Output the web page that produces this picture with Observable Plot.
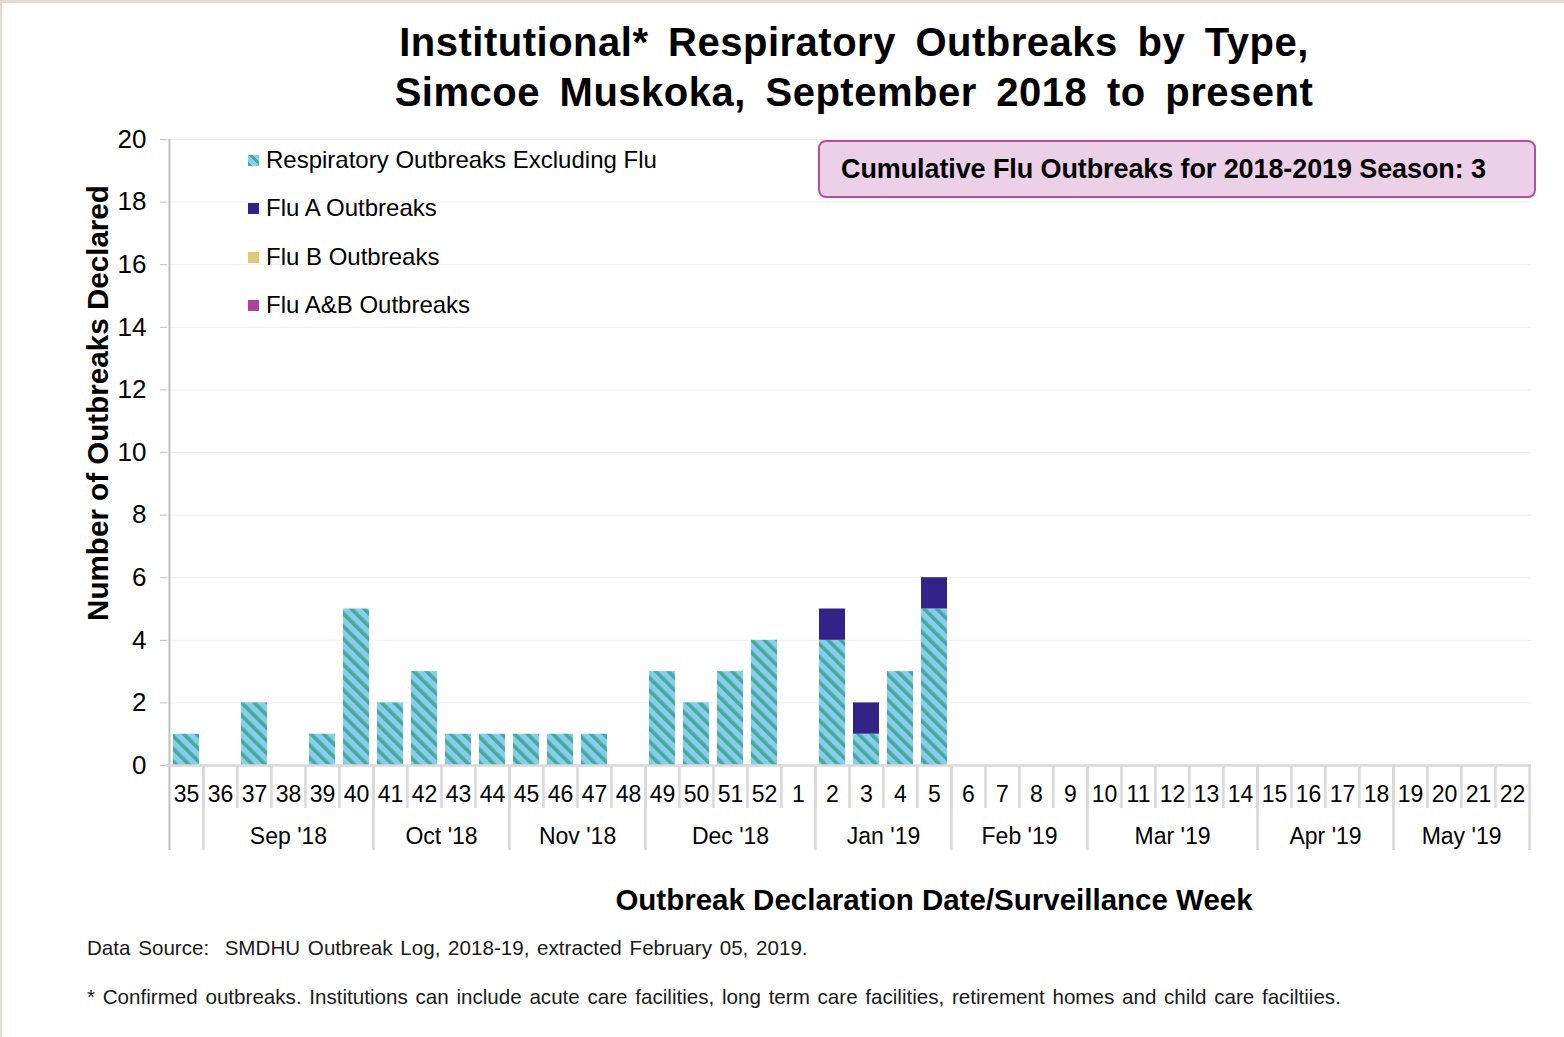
<!DOCTYPE html>
<html>
<head>
<meta charset="utf-8">
<script src="https://cdn.jsdelivr.net/npm/d3@7"></script>
<script src="https://cdn.jsdelivr.net/npm/@observablehq/plot@0.6"></script>
<style>
  html, body { margin: 0; padding: 0; background: #fff; }
  body { width: 1564px; height: 1037px; position: relative; overflow: hidden;
         font-family: "Liberation Sans", Arial, sans-serif; color: #000; }
  #edgeL { position: absolute; left: 0; top: 0; width: 2px; height: 1037px; background: #e6dbd0; }
  #edgeT { position: absolute; left: 0; top: 0; width: 1564px; height: 3px; background: #e6dbd0; }
  #title { position: absolute; left: 0; top: 17px; width: 1708px; text-align: center;
           font-weight: bold; font-size: 40px; line-height: 50px; word-spacing: 8px; letter-spacing: 0.5px; }
  #chart { position: absolute; left: 0; top: 120px; }
  #ylabel { position: absolute; left: 98px; top: 403px; transform: translate(-50%, -50%) rotate(-90deg);
            white-space: nowrap; font-weight: bold; font-size: 29.6px; line-height: 30px; }
  #xlabel { position: absolute; left: 934px; top: 900px; transform: translate(-50%, -50%);
            white-space: nowrap; font-weight: bold; font-size: 29.5px; line-height: 30px; }
  .note { position: absolute; left: 87px; white-space: nowrap; font-size: 20.6px; line-height: 22px;
          color: #1a1a1a; transform: translateY(-50%); word-spacing: 2px; }
  #legend { position: absolute; left: 248px; top: 0; }
  .lg { position: absolute; left: 0; white-space: nowrap; font-size: 24px; line-height: 26px;
        transform: translateY(-50%); }
  .sw { display: inline-block; width: 11px; height: 11px; margin-right: 7px; vertical-align: 2px; }
  #box { position: absolute; left: 818px; top: 140px; width: 714px; height: 54px;
         border: 2px solid #b24fa1; border-radius: 8px; background: #ecd0e7; box-sizing: content-box; }
  #box span { position: absolute; left: 21px; top: 50%; transform: translateY(-50%);
              font-weight: bold; font-size: 27px; white-space: nowrap; letter-spacing: -0.1px; }
</style>
</head>
<body>
<div id="edgeL"></div><div id="edgeT"></div>
<div id="title">Institutional* Respiratory Outbreaks by Type,<br>Simcoe Muskoka, September 2018 to present</div>
<div id="chart"></div>
<div id="ylabel">Number of Outbreaks Declared</div>
<div id="xlabel">Outbreak Declaration Date/Surveillance Week</div>
<div class="note" style="top:948px">Data Source:&nbsp; SMDHU Outbreak Log, 2018-19, extracted February 05, 2019.</div>
<div class="note" style="top:997px">* Confirmed outbreaks. Institutions can include acute care facilities, long term care facilities, retirement homes and child care faciltiies.</div>
<div id="legend"></div>
<div id="box"><span id="boxText"></span></div>
<script>
// ---------- data ----------
const weeks = ["35","36","37","38","39","40","41","42","43","44","45","46","47","48","49","50","51","52",
               "1","2","3","4","5","6","7","8","9","10","11","12","13","14","15","16","17","18","19","20","21","22"];
const respExclFlu = [1,0,2,0,1,5,2,3,1,1,1,1,1,0,3,2,3,4,0,4,1,3,5,0,0,0,0,0,0,0,0,0,0,0,0,0,0,0,0,0];
const fluA        = [0,0,0,0,0,0,0,0,0,0,0,0,0,0,0,0,0,0,0,1,1,0,1,0,0,0,0,0,0,0,0,0,0,0,0,0,0,0,0,0];
const fluB        = [0,0,0,0,0,0,0,0,0,0,0,0,0,0,0,0,0,0,0,0,0,0,0,0,0,0,0,0,0,0,0,0,0,0,0,0,0,0,0,0];
const fluAB       = [0,0,0,0,0,0,0,0,0,0,0,0,0,0,0,0,0,0,0,0,0,0,0,0,0,0,0,0,0,0,0,0,0,0,0,0,0,0,0,0];
const seriesNames = ["Respiratory Outbreaks Excluding Flu", "Flu A Outbreaks", "Flu B Outbreaks", "Flu A&B Outbreaks"];
const monthLabels = ["", "Sep '18", "Oct '18", "Nov '18", "Dec '18", "Jan '19", "Feb '19", "Mar '19", "Apr '19", "May '19"];
const monthStartWeek = ["35", "36", "41", "45", "49", "2", "6", "10", "15", "19"];
const monthWeekCount = [1, 5, 4, 4, 5, 4, 4, 5, 4, 4];
const yTicks = [0, 2, 4, 6, 8, 10, 12, 14, 16, 18, 20];
const cumulativeFlu = 3;
const seasonLabel = "2018-2019";

// ---------- layout ----------
const W = 1564, H = 800, mL = 167, mR = 33, mT = 19, mB = 155;
const step = (W - mL - mR) / weeks.length;
const colors = ["url(#respStripes)", "#332288", "#DDCC77", "#AA4499"];
const swatchCss = ["repeating-linear-gradient(45deg, #44AA99 0 3px, #88CCEE 3px 8px)", "#332288", "#DDCC77", "#AA4499"];

const seriesValues = [respExclFlu, fluA, fluB, fluAB];
const rows = [];
seriesNames.forEach((s, k) => weeks.forEach((w, i) => rows.push({week: w, type: s, value: seriesValues[k][i]})));

const months = monthLabels.map((label, i) => {
  const start = weeks.indexOf(monthStartWeek[i]);
  const n = monthWeekCount[i];
  return {label, start: monthStartWeek[i], mid: weeks[start + Math.floor((n - 1) / 2)], even: n % 2 === 0};
});
const monthEdges = months.map(m => m.start);
const WEEK_TICK = -43 / ((H - mT - mB) / 20);   // divider depth in y-units below 0
const MONTH_TICK = -85 / ((H - mT - mB) / 20);

const chart = Plot.plot({
  width: W, height: H, marginLeft: mL, marginRight: mR, marginTop: mT, marginBottom: mB,
  style: {fontFamily: "'Liberation Sans', Arial, sans-serif", fontSize: "23px", color: "#000", background: "transparent", overflow: "visible"},
  x: {type: "band", domain: weeks, padding: 0, label: null},
  y: {domain: [0, 20], label: null},
  color: {domain: seriesNames, range: colors},
  marks: [
    Plot.gridY(yTicks, {stroke: "#000", strokeOpacity: 0.07, strokeWidth: 1}),
    Plot.barY(rows, {x: "week", y: "value", fill: "type", insetLeft: 4, insetRight: 4}),
    // y axis line
    Plot.ruleX([weeks[0]], {x: d => d, dx: -step / 2, y1: 20, y2: MONTH_TICK, stroke: "#c0c0c0", strokeWidth: 2}),
    // x baseline
    Plot.ruleY([0], {stroke: "#d9d9d9", strokeWidth: 2.5}),
    // week dividers
    Plot.ruleX(weeks.slice(1), {x: d => d, dx: -step / 2, y1: 0, y2: WEEK_TICK, stroke: "#d9d9d9", strokeWidth: 2.5}),
    // month dividers
    Plot.ruleX(monthEdges.slice(1), {x: d => d, dx: -step / 2, y1: 0, y2: MONTH_TICK, stroke: "#d9d9d9", strokeWidth: 2.5}),
    Plot.ruleX([weeks[weeks.length - 1]], {x: d => d, dx: step / 2, y1: 0, y2: MONTH_TICK, stroke: "#d9d9d9", strokeWidth: 2.5}),
    Plot.axisY(yTicks, {tickSize: 7, tickPadding: 14, fontSize: 26, stroke: "#c0c0c0", label: null}),
    Plot.axisX({tickSize: 0, tickPadding: 20, fontSize: 23, label: null}),
    Plot.text(months.filter(m => !m.even), {x: "mid", text: "label", frameAnchor: "bottom", dy: 78, fontSize: 23}),
    Plot.text(months.filter(m => m.even), {x: "mid", text: "label", frameAnchor: "bottom", dy: 78, dx: step / 2, fontSize: 23})
  ]
});

// stripe pattern for the non-flu series
const ns = "http://www.w3.org/2000/svg";
const defs = document.createElementNS(ns, "defs");
defs.innerHTML = '<pattern id="respStripes" patternUnits="userSpaceOnUse" width="9" height="9" patternTransform="rotate(-45)">' +
  '<rect width="9" height="9" fill="#88CCEE"/><rect width="3.6" height="9" fill="#44AA99"/></pattern>';
chart.prepend(defs);
document.getElementById("chart").appendChild(chart);

// legend (inside plot area)
const legendY = [160, 208, 257, 305];
const legend = document.getElementById("legend");
seriesNames.forEach((s, k) => {
  const d = document.createElement("div");
  d.className = "lg";
  d.style.top = legendY[k] + "px";
  d.innerHTML = `<span class="sw" style="background:${swatchCss[k]}"></span>${s}`;
  legend.appendChild(d);
});
document.getElementById("boxText").textContent = `Cumulative Flu Outbreaks for ${seasonLabel} Season: ${cumulativeFlu}`;
</script>
</body>
</html>
